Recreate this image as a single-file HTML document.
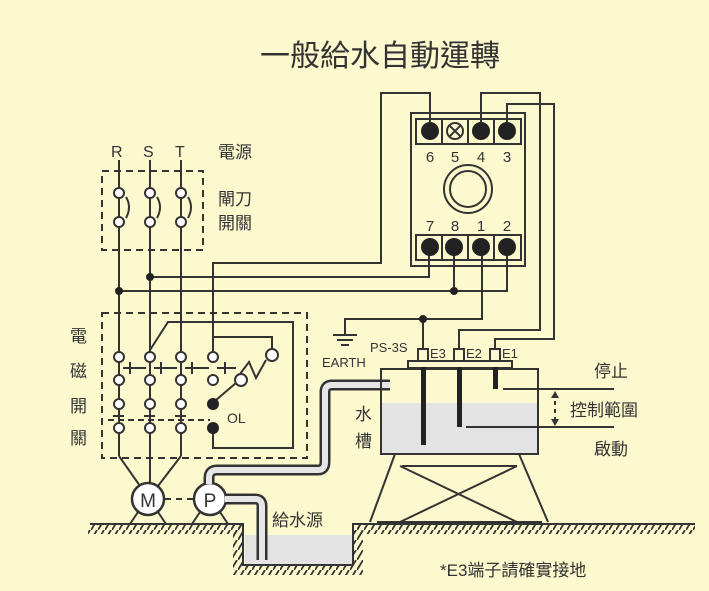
<!DOCTYPE html>
<html><head><meta charset="utf-8"><style>
body{margin:0;background:#fdf9cf}
svg{display:block}
text{font-family:"Liberation Sans","Noto Sans CJK TC",sans-serif;fill:#333}
</style></head><body>
<svg width="709" height="591" viewBox="0 0 709 591" xmlns="http://www.w3.org/2000/svg">
<defs>
<pattern id="h" width="7" height="10" patternUnits="userSpaceOnUse"><line x1="6" y1="0" x2="0" y2="10" stroke="#333" stroke-width="1.8"/></pattern>
</defs>
<rect width="709" height="591" fill="#fdf9cf"/>
<text x="380" y="66" font-size="30" text-anchor="middle">一般給水自動運轉</text>

<g stroke="#333" stroke-width="2" fill="none">
<path d="M90 524H243V565H353V524H695"/>
</g>
<rect x="88" y="525" width="155" height="9" fill="url(#h)"/>
<rect x="353" y="525" width="342" height="9" fill="url(#h)"/>
<rect x="233" y="525" width="9" height="42" fill="url(#h)"/>
<rect x="354" y="525" width="9" height="42" fill="url(#h)"/>
<rect x="233" y="566" width="130" height="9" fill="url(#h)"/>
<rect x="245" y="535" width="107" height="29" fill="#e3e3e3"/>

<text x="111" y="157" font-size="16">R</text>
<text x="143" y="157" font-size="16">S</text>
<text x="175" y="157" font-size="16">T</text>
<text x="218" y="158" font-size="17">電源</text>
<text x="218" y="205" font-size="17">閘刀</text>
<text x="218" y="229" font-size="17">開關</text>
<text x="70" y="342" font-size="17">電</text>
<text x="70" y="377" font-size="17">磁</text>
<text x="70" y="412" font-size="17">開</text>
<text x="70" y="444" font-size="17">關</text>

<g stroke="#333" stroke-width="2" fill="none">
<rect x="102" y="171" width="101" height="79" stroke-dasharray="7,5"/>
<rect x="102" y="313" width="205" height="145" stroke-dasharray="7,5"/>
<path d="M119 160V456M150 160V456M181 160V456"/>
<path d="M119 456L140 486M150 456V483M181 456L158 486"/>
<path d="M126 197Q132 207 126 218M157 197Q163 207 157 218M188 197Q194 207 188 218"/>
<path d="M213 352V263H381V93H430V122"/>
<path d="M150 277H429V255"/>
<path d="M119 291H507V255"/>
<path d="M454 291V255"/>
<path d="M482 255V319H345V335"/>
<path d="M423 319V349"/>
<path d="M481 122V93H540V330H459V349"/>
<path d="M507 122V104H554V339H495V349"/>
<path d="M333 335H357M337 340H353M341 345H349"/>
<path d="M150 350L168 322H293V448H213V432"/>
<path d="M213 352V337H225V337H272V349"/>
<path d="M266 360L256 378L249 362L240 374"/>
<path d="M236 383L216 400"/>
<path d="M123 368H146M154 368H177M185 368H209M217 368H236"/>
<path d="M130 362V374M161 362V374M192 362V374M225 362V374"/>
<path d="M108 420H210" stroke-dasharray="6,4"/>
<path d="M113 416H124M144 416H155M175 416H186"/>
<path d="M165 499H193" stroke-dasharray="6,5"/>
<path d="M138 512L130 524M158 512L166 524M200 512L192 524M220 512L228 524"/>
</g>

<g fill="#fff" stroke="#333" stroke-width="2">
<circle cx="119" cy="193" r="5"/><circle cx="150" cy="193" r="5"/><circle cx="181" cy="193" r="5"/>
<circle cx="119" cy="222" r="5"/><circle cx="150" cy="222" r="5"/><circle cx="181" cy="222" r="5"/>
<circle cx="119" cy="357" r="5"/><circle cx="150" cy="357" r="5"/><circle cx="181" cy="357" r="5"/><circle cx="213" cy="357" r="5"/>
<circle cx="119" cy="380" r="5"/><circle cx="150" cy="380" r="5"/><circle cx="181" cy="380" r="5"/><circle cx="213" cy="380" r="5"/>
<circle cx="119" cy="404" r="5"/><circle cx="150" cy="404" r="5"/><circle cx="181" cy="404" r="5"/>
<circle cx="119" cy="428" r="5"/><circle cx="150" cy="428" r="5"/><circle cx="181" cy="428" r="5"/>
<circle cx="272" cy="355" r="6"/><circle cx="241" cy="380" r="6"/>
<circle cx="148" cy="499" r="16" stroke-width="2.5"/>
<circle cx="210" cy="499" r="16" stroke-width="2.5"/>
</g>
<g fill="#222">
<circle cx="213" cy="404" r="6"/><circle cx="213" cy="428" r="6"/>
<circle cx="150" cy="277" r="4"/><circle cx="119" cy="291" r="4"/>
<circle cx="454" cy="291" r="4"/><circle cx="423" cy="319" r="4"/>
</g>
<text x="227" y="423" font-size="14">OL</text>
<text x="148" y="507" font-size="19" text-anchor="middle">M</text>
<text x="210" y="507" font-size="19" text-anchor="middle">P</text>

<g fill="none" stroke-linejoin="round">
<path d="M209 484V478Q209 470 217 470H318Q325 470 325 462V392Q325 385 332 385H390" stroke="#333" stroke-width="11"/>
<path d="M209 484V478Q209 470 217 470H318Q325 470 325 462V392Q325 385 332 385H390" stroke="#e6e6e6" stroke-width="6"/>
<path d="M225 499H255Q262 499 262 506V560" stroke="#333" stroke-width="11"/>
<path d="M225 499H255Q262 499 262 506V560" stroke="#e6e6e6" stroke-width="6"/>
</g>
<text x="272" y="526" font-size="17">給水源</text>

<g stroke="#333" stroke-width="2" fill="none">
<rect x="411" y="113" width="114" height="153"/>
<rect x="416" y="119" width="105" height="25"/>
<path d="M442 119V144M468 119V144M494 119V144"/>
<rect x="416" y="235" width="105" height="25"/>
<path d="M442 235V260M468 235V260M494 235V260"/>
<circle cx="468" cy="189" r="24"/><circle cx="468" cy="189" r="18"/>
<circle cx="455" cy="131" r="8"/>
<path d="M449 125L461 137M461 125L449 137"/>
</g>
<g fill="#222">
<circle cx="430" cy="131" r="9"/><circle cx="481" cy="131" r="9"/><circle cx="507" cy="131" r="9"/>
<circle cx="430" cy="247" r="9"/><circle cx="454" cy="247" r="9"/><circle cx="481" cy="247" r="9"/><circle cx="507" cy="247" r="9"/>
</g>
<g font-size="15" text-anchor="middle">
<text x="430" y="162">6</text><text x="455" y="162">5</text><text x="481" y="162">4</text><text x="507" y="162">3</text>
<text x="430" y="231">7</text><text x="455" y="231">8</text><text x="481" y="231">1</text><text x="507" y="231">2</text>
</g>

<rect x="381" y="403" width="157" height="51" fill="#e3e3e3"/>
<g stroke="#333" stroke-width="2" fill="none">
<rect x="381" y="369" width="157" height="85"/>
<rect x="408" y="361" width="104" height="7" fill="#fdf9cf"/>
<rect x="418" y="349" width="10" height="12" fill="#fdf9cf"/>
<rect x="454" y="349" width="10" height="12" fill="#fdf9cf"/>
<rect x="490" y="349" width="10" height="12" fill="#fdf9cf"/>
<path d="M503 389H614M466 427H614"/>
<path d="M555 393V424" stroke-dasharray="4,4"/>
<path d="M395 454L370 522M519 454L548 522M402 466H517M400 466L517 522M517 466L400 522M377 522H542"/>
</g>
<rect x="421" y="367" width="5" height="78" fill="#222"/>
<rect x="457" y="367" width="5" height="60" fill="#222"/>
<rect x="493" y="367" width="5" height="22" fill="#222"/>
<path d="M555 391L551 398H559ZM555 426L551 419H559Z" fill="#333"/>
<text x="370" y="352" font-size="13">PS-3S</text>
<text x="322" y="367" font-size="13">EARTH</text>
<text x="430" y="358" font-size="13">E3</text>
<text x="466" y="358" font-size="13">E2</text>
<text x="502" y="358" font-size="13">E1</text>
<text x="355" y="420" font-size="17">水</text>
<text x="355" y="447" font-size="17">槽</text>
<text x="594" y="377" font-size="17">停止</text>
<text x="570" y="416" font-size="17">控制範圍</text>
<text x="594" y="455" font-size="17">啟動</text>
<text x="440" y="576" font-size="17">*E3端子請確實接地</text>
</svg>
</body></html>
